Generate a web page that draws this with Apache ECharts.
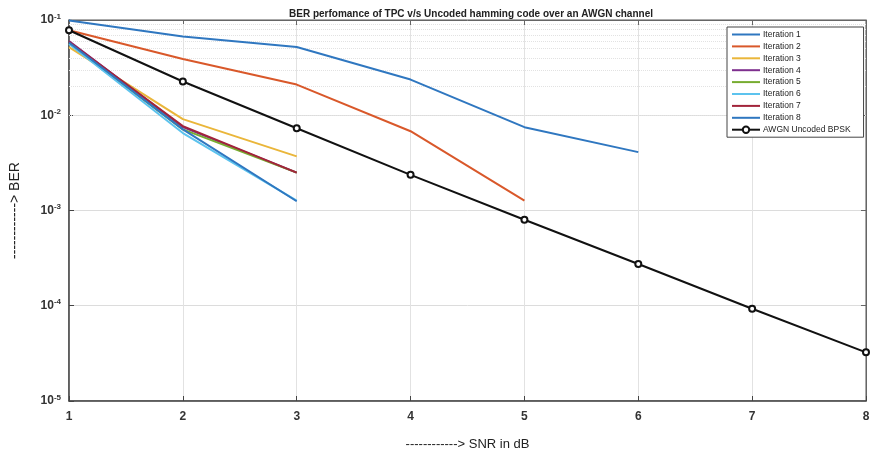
<!DOCTYPE html>
<html>
<head>
<meta charset="utf-8">
<script src="https://cdn.jsdelivr.net/npm/echarts@6/dist/echarts.min.js"></script>
<style>
  html, body { margin: 0; padding: 0; background: #fff; }
  #chart { width: 874px; height: 456px; }
</style>
</head>
<body>
<div id="chart"></div>
<script>
// SNR points (dB)
const snrTPC = [1, 2, 3, 4, 5, 6];
const snrUncoded = [1, 2, 3, 4, 5, 6, 7, 8];

// BER per turbo product code iteration
const iter1 = [0.099, 0.067, 0.052, 0.0237, 0.0075, 0.0041];
const iter2 = [0.078, 0.039, 0.021, 0.0068, 0.00127];
const iter3 = [0.052, 0.0091, 0.0037];
const iter4 = [0.060, 0.0075, 0.0025];
const iter5 = [0.057, 0.0071, 0.0025];
const iter6 = [0.056, 0.0065, 0.00127];
const iter7 = [0.059, 0.0077, 0.0025];
const iter8 = [0.058, 0.0071, 0.00125];

// Uncoded BPSK over AWGN
const awgn = [0.078, 0.0226, 0.0073, 0.00237, 0.0008, 0.000274, 0.000093, 0.0000324];

const seriesNames = ['Iteration 1', 'Iteration 2', 'Iteration 3', 'Iteration 4',
  'Iteration 5', 'Iteration 6', 'Iteration 7', 'Iteration 8', 'AWGN Uncoded BPSK'];
const seriesColors = ['#2f77c0', '#d9582a', '#eab63a', '#7e2f8e', '#77ac30',
  '#5cc3ee', '#a2243a', '#2f77c0', '#111111'];

// dotted minor grid lines at 2..9 x 10^k
const minorLevels = [];
for (let e = -5; e <= -2; e++) {
  for (let k = 2; k <= 9; k++) minorLevels.push(k * Math.pow(10, e));
}

function pairs(xs, ys) { return ys.map((y, i) => [xs[i], y]); }

const tpcSets = [iter1, iter2, iter3, iter4, iter5, iter6, iter7, iter8];
const series = tpcSets.map((d, i) => ({
  name: seriesNames[i],
  type: 'line',
  data: pairs(snrTPC, d),
  symbol: 'circle',
  showSymbol: false,
  lineStyle: { width: 2, color: seriesColors[i] },
  itemStyle: { color: seriesColors[i] },
  z: 3
}));
series.push({
  name: seriesNames[8],
  type: 'line',
  data: pairs(snrUncoded, awgn),
  symbol: 'emptyCircle',
  symbolSize: 6,
  lineStyle: { width: 2, color: seriesColors[8] },
  itemStyle: { color: seriesColors[8], borderColor: seriesColors[8], borderWidth: 1.2 },
  z: 4
});
series.push({
  type: 'line',
  data: [],
  silent: true,
  markLine: {
    silent: true,
    z: 1,
    symbol: ['none', 'none'],
    label: { show: false },
    lineStyle: { type: 'dotted', color: '#e2e2e2', width: 1 },
    data: minorLevels.map(v => ({ yAxis: v }))
  },
  z: 1
});

// legend entries: plain lines for the iterations, line + ring for the uncoded curve
const legendData = seriesNames.map((n, i) => i < 8
  ? { name: n, itemStyle: { color: 'rgba(0,0,0,0)', borderWidth: 0 } }
  : { name: n });

const tickFont = { fontFamily: 'Liberation Sans, Arial, sans-serif', fontSize: 12, fontWeight: 'bold', color: '#333' };

const chart = echarts.init(document.getElementById('chart'), null, { renderer: 'canvas' });
chart.setOption({
  animation: false,
  backgroundColor: '#fff',
  title: {
    text: 'BER perfomance of TPC v/s Uncoded hamming code over an AWGN channel',
    left: 466, top: 4, textAlign: 'center',
    textStyle: { fontFamily: 'Liberation Sans, Arial, sans-serif', fontSize: 10, fontWeight: 'bold', color: '#222' }
  },
  grid: { left: 66, right: 8, top: 20, bottom: 52, show: true, borderColor: '#555', borderWidth: 1 },
  legend: {
    data: legendData,
    z: 10,
    orient: 'vertical',
    left: 727, top: 27,
    itemWidth: 28, itemHeight: 8, itemGap: 2.9,
    padding: [3, 13, 3, 4],
    backgroundColor: '#fff',
    borderColor: '#444', borderWidth: 1,
    textStyle: { fontFamily: 'Liberation Sans, Arial, sans-serif', fontSize: 8.5, color: '#222', padding: [0, 0, 0, -2] }
  },
  xAxis: [{
    type: 'value', min: 1, max: 8, interval: 1,
    name: '------------> SNR in dB', nameLocation: 'middle', nameGap: 37,
    nameTextStyle: { fontFamily: 'Liberation Sans, Arial, sans-serif', fontSize: 13, color: '#222' },
    axisLine: { lineStyle: { color: '#444', width: 1.5 } },
    axisTick: { inside: true, length: 5, lineStyle: { color: '#444' } },
    axisLabel: Object.assign({ margin: 10 }, tickFont),
    splitLine: { show: true, lineStyle: { color: '#e2e2e2', width: 1 } }
  }, {
    type: 'value', min: 1, max: 8, interval: 1, position: 'top',
    axisLine: { lineStyle: { color: '#666' } },
    axisTick: { inside: true, length: 5, lineStyle: { color: '#666' } },
    axisLabel: { show: false }, splitLine: { show: false }
  }],
  yAxis: [{
    type: 'log', logBase: 10, min: 1e-5, max: 1e-1,
    name: '------------> BER', nameLocation: 'middle', nameGap: 47, nameRotate: 90,
    nameTextStyle: { fontFamily: 'Liberation Sans, Arial, sans-serif', fontSize: 14, color: '#222' },
    axisLine: { show: true, lineStyle: { color: '#444', width: 1.5 } },
    axisTick: { show: true, inside: true, length: 5, lineStyle: { color: '#444' } },
    axisLabel: Object.assign({
      margin: 8,
      formatter: v => '10{s|' + Math.round(Math.log10(v)) + '}',
      rich: { s: { fontSize: 8, fontWeight: 'bold', color: '#333', verticalAlign: 'top', padding: [0, 0, 7, 0] } }
    }, tickFont),
    splitLine: { show: true, lineStyle: { color: '#dcdcdc', width: 1 } }
  }, {
    type: 'log', logBase: 10, min: 1e-5, max: 1e-1, position: 'right',
    axisLine: { show: true, lineStyle: { color: '#666' } },
    axisTick: { show: true, inside: true, length: 5, lineStyle: { color: '#666' } },
    axisLabel: { show: false }, splitLine: { show: false }
  }],
  series: series
});
</script>
</body>
</html>
